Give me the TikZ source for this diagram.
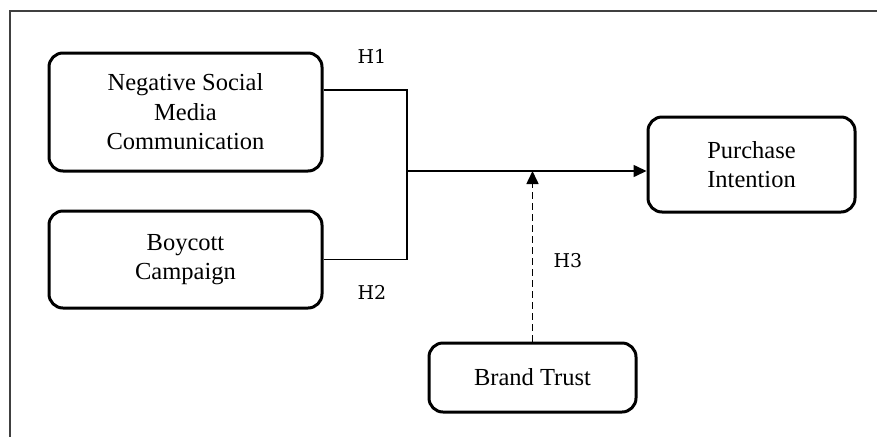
\documentclass[tikz,border=0pt]{standalone}
\usepackage{fontspec}
\setmainfont{Liberation Serif}
\newfontfamily\hfont{DejaVu Serif}
\usetikzlibrary{arrows.meta}
\tikzset{
  boxnode/.style={draw, line width=3pt, rounded corners=14pt, align=center,
    inner sep=0pt, font=\fontsize{24.5}{29.5}\selectfont},
  conn/.style={line width=1.6pt},
  hlab/.style={font=\hfont\fontsize{19}{21}\selectfont, inner sep=0pt},
  tip/.style={-{Triangle[length=13pt,width=12pt]}}
}
\begin{document}
\begin{tikzpicture}[x=1pt,y=1pt]
\useasboundingbox (0,0) rectangle (877,-437);
\draw[line width=1.8pt, black!75] (877,-11) -- (10,-11) -- (10,-437);
\node[boxnode, minimum width=273pt, minimum height=118pt] (n1) at (185.5,-112) {Negative Social\\Media\\Communication};
\node[boxnode, minimum width=273pt, minimum height=97pt] (n2) at (185.5,-259.5) {Boycott\\Campaign};
\node[boxnode, minimum width=207pt, minimum height=95pt] (n3) at (751.5,-164.5) {Purchase\\Intention};
\node[boxnode, minimum width=207pt, minimum height=69pt] (n4) at (532.5,-377.5) {Brand Trust};
\coordinate (j) at (407,-171);
\draw[conn] ([yshift=22pt]n1.east) -| (j);
\draw[conn] (n2.east) -| (j);
\draw[conn, tip] (j) -- (j -| n3.west);
\draw[conn, dash pattern=on 7pt off 4pt, tip] (n4.north) -- (n4.north |- j);
\node[hlab] (h1) at (372,-56) {H1};
\node[hlab] (h2) at (372,-292) {H2};
\node[hlab] (h3) at (568,-261) {H3};
\end{tikzpicture}
\end{document}
